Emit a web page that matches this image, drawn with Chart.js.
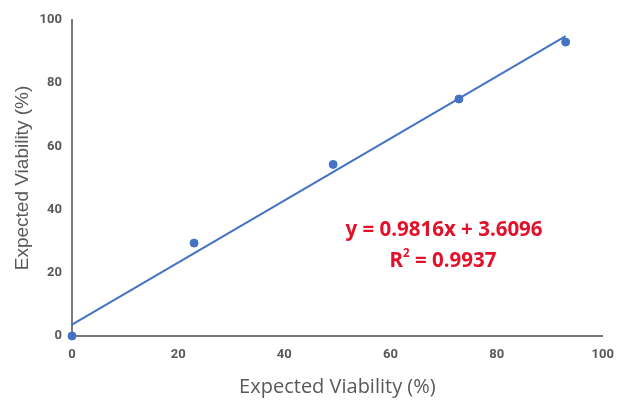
<!DOCTYPE html>
<html>
<head>
<meta charset="utf-8">
<script src="https://cdn.jsdelivr.net/npm/chart.js@4.4.1/dist/chart.umd.min.js"></script>
<style>
  html, body { margin: 0; padding: 0; background: #fff; }
  #wrap { width: 625px; height: 400px; }
</style>
</head>
<body>
<div id="wrap"><canvas id="viability-chart" width="625" height="400"></canvas></div>
<script>
// measured points
const expectedX = [0, 23, 49.2, 72.9, 93];
const observedY = [0, 29.4, 54.3, 75, 93];

// linear fit shown on the chart
const slope = 0.9816;
const intercept = 3.6096;
const trendRange = [0, 93];
const equationLines = ['y = 0.9816x + 3.6096', 'R', '= 0.9937'];

const axisTicks = [0, 20, 40, 60, 80, 100];

const blue = '#4472c4';
const gray = '#595959';
const eqFont = '"Noto Sans"';

const points = expectedX.map(function(x, i) {
    return { x: x, y: observedY[i] };
});
const trend = trendRange.map(function(x) {
    return { x: x, y: slope * x + intercept };
});

const equationPlugin = {
    id: 'equation',
    afterDatasetsDraw: function(chart) {
        const ctx = chart.ctx;
        const big = 'bold 20.5px ' + eqFont;
        const small = 'bold 11.5px ' + eqFont;
        ctx.save();
        ctx.fillStyle = '#e3102a';
        ctx.textBaseline = 'middle';
        ctx.textAlign = 'center';
        ctx.font = big;
        ctx.fillText(equationLines[0], 444, 230);

        // R² line, drawn in parts for the superscript
        const rW = ctx.measureText(equationLines[1]).width;
        ctx.font = small;
        const supW = ctx.measureText('2').width;
        ctx.font = big;
        const restW = ctx.measureText(' ' + equationLines[2]).width;
        const total = rW + supW + restW;
        let x = 443 - total / 2;
        ctx.textAlign = 'left';
        ctx.fillText(equationLines[1], x, 261);
        x += rW;
        ctx.font = small;
        ctx.fillText('2', x, 254);
        x += supW;
        ctx.font = big;
        ctx.fillText(' ' + equationLines[2], x, 261);
        ctx.restore();
    }
};

function axis(title, tickPadding, fit) {
    return {
        type: 'linear',
        min: 0,
        max: 100,
        afterBuildTicks: function(scale) {
            scale.ticks = axisTicks.map(function(v) { return { value: v }; });
        },
        afterFit: fit,
        grid: { display: false, drawTicks: false },
        border: { display: true, color: '#7a7a7a', width: 2 },
        ticks: {
            padding: tickPadding,
            color: gray,
            font: { family: 'Roboto', size: 13, weight: 'bold' }
        },
        title: title
    };
}

new Chart(document.getElementById('viability-chart').getContext('2d'), {
    type: 'scatter',
    data: {
        datasets: [
            {
                label: 'Trend',
                type: 'line',
                data: trend,
                borderColor: blue,
                borderWidth: 2,
                pointRadius: 0,
                fill: false
            },
            {
                label: 'Viability',
                data: points,
                backgroundColor: blue,
                borderColor: blue,
                pointRadius: 4,
                pointHoverRadius: 4
            }
        ]
    },
    options: {
        responsive: false,
        animation: false,
        clip: false,
        layout: { padding: { top: 20, right: 22, left: 0, bottom: 0 } },
        plugins: {
            legend: { display: false },
            tooltip: { enabled: false }
        },
        scales: {
            x: axis({
                display: true,
                text: 'Expected Viability (%)',
                color: gray,
                padding: { top: 4, bottom: 1 },
                font: { family: 'Open Sans', size: 20 }
            }, 11, function(s) { s.height = 64; }),
            y: axis({
                display: true,
                text: 'Expected Viability (%)',
                color: gray,
                padding: { top: 11, bottom: 4 },
                font: { family: 'Liberation Sans', size: 19 }
            }, 10, function(s) { s.width = 72; })
        }
    },
    plugins: [equationPlugin]
});
</script>
</body>
</html>
